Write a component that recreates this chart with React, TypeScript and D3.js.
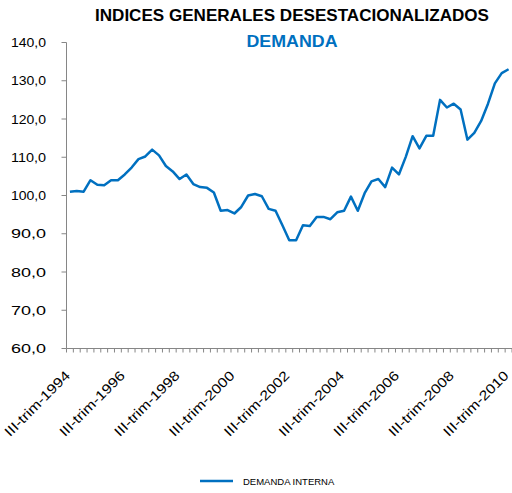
import React from "react";
import * as d3 from "d3";

const years = d3.range(1994, 2011);
const quarters = ["I", "II", "III", "IV"];
const categories: string[] = [];
years.forEach((y) => quarters.forEach((q) => categories.push(`${q}-trim-${y}`)));
const cats = categories.slice(2, 2 + 65);

const demandaInterna = [
  101.0, 101.2, 101.0, 104.0, 102.8, 102.7, 104.0, 104.0, 105.5, 107.3,
  109.5, 110.2, 112.0, 110.5, 107.7, 106.3, 104.3, 105.5, 103.0, 102.2,
  102.0, 100.8, 96.0, 96.2, 95.3, 97.0, 100.0, 100.4, 99.8, 96.5,
  96.0, 92.2, 88.3, 88.3, 92.2, 92.0, 94.4, 94.4, 93.8, 95.6,
  96.0, 99.7, 96.0, 100.6, 103.7, 104.3, 102.2, 107.3, 105.5, 110.1,
  115.5, 112.3, 115.6, 115.6, 125.0, 123.0, 124.0, 122.5, 114.6, 116.4,
  119.5, 124.0, 129.3, 132.0, 133.0,
];

const yTicks = [60, 70, 80, 90, 100, 110, 120, 130, 140];
const labelEvery = 8;
const title = "INDICES GENERALES DESESTACIONALIZADOS";
const subtitle = "DEMANDA";
const seriesName = "DEMANDA INTERNA";

const W = 512;
const H = 493;
const left = 66.5;
const right = 512;
const top = 42.5;
const bottom = 348.5;
const blue = "#0070C0";
const axisColor = "#868686";
const font = "'Liberation Sans', Arial, sans-serif";

export default function App() {
  const x = d3.scaleBand<string>().domain(cats).range([left, right]);
  const y = d3.scaleLinear().domain([60, 140]).range([bottom, top]);
  const line = d3
    .line<number>()
    .x((_, i) => (x(cats[i]) as number) + x.bandwidth() / 2)
    .y((d) => y(d));
  const bounds = cats.map((c) => x(c) as number).concat([right]);

  return (
    <svg
      width={W}
      height={H}
      style={{ position: "absolute", left: 0, top: 0, background: "#fff" }}
      fontFamily={font}
    >
      <text
        x={292}
        y={21}
        textAnchor="middle"
        fontSize={16.5}
        fontWeight="bold"
        fill="#000"
        textLength={394}
        lengthAdjust="spacingAndGlyphs"
      >
        {title}
      </text>
      <text
        x={292}
        y={47}
        textAnchor="middle"
        fontSize={16.5}
        fontWeight="bold"
        fill={blue}
        textLength={91}
        lengthAdjust="spacingAndGlyphs"
      >
        {subtitle}
      </text>

      {/* y axis */}
      <line x1={left} x2={left} y1={top} y2={bottom} stroke={axisColor} strokeWidth={1} />
      {yTicks.map((t) => (
        <g key={t}>
          <line x1={left - 5} x2={left} y1={y(t)} y2={y(t)} stroke={axisColor} />
          <text
            x={46}
            y={y(t) + 4.5}
            textAnchor="end"
            fontSize={13.5}
            fill="#000"
            textLength={35}
            lengthAdjust="spacingAndGlyphs"
          >
            {d3.format(".1f")(t).replace(".", ",")}
          </text>
        </g>
      ))}

      {/* x axis */}
      <line x1={left} x2={right} y1={bottom} y2={bottom} stroke={axisColor} />
      {bounds.map((b, i) => (
        <line key={i} x1={b} x2={b} y1={bottom} y2={bottom + 4} stroke={axisColor} />
      ))}
      {cats.map((c, i) =>
        i % labelEvery === 0 ? (
          <text
            key={c}
            transform={`translate(${(x(c) as number) + x.bandwidth() / 2 + 1},${bottom + 28}) rotate(-45)`}
            textAnchor="end"
            fontSize={13.5}
            fill="#000"
            textLength={86}
            lengthAdjust="spacingAndGlyphs"
          >
            {c}
          </text>
        ) : null
      )}

      <path d={line(demandaInterna) || ""} fill="none" stroke={blue} strokeWidth={2.5} strokeLinejoin="round" />

      {/* legend */}
      <line x1={200} x2={233} y1={481} y2={481} stroke={blue} strokeWidth={2.5} />
      <text x={243} y={485} fontSize={9.5} fill="#000">
        {seriesName}
      </text>
    </svg>
  );
}
